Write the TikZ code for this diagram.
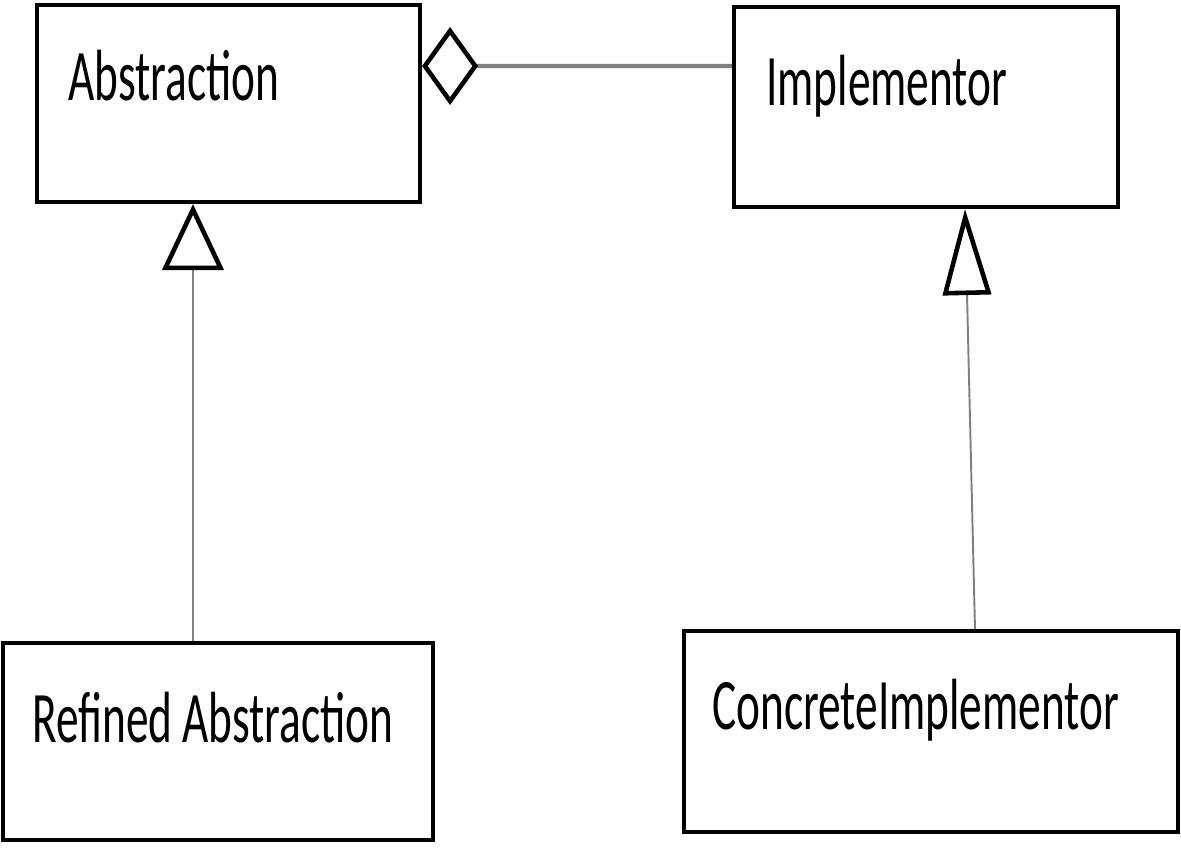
\documentclass[tikz,border=0pt]{standalone}
\usepackage{fontspec}
\setmainfont{Carlito}
\usepackage{graphicx}
\usepackage{tikz}
\usetikzlibrary{arrows.meta}
\newcommand\tallbox[1]{\scalebox{1}[1.6]{#1}}
\tikzset{
  umlbox/.style={draw, line width=2.4pt, rectangle, inner sep=0pt},
  cls/.style={inner sep=0pt, anchor=base west, font=\fontsize{25.8}{30}\selectfont},
  agg/.style={draw=gray, line width=2.4pt,
    {Diamond[fill=white, color=black, line width=2.6pt, length=1.12cm, width=1.56cm]}-},
}

\begin{document}
\begin{tikzpicture}[x=0.02cm,y=-0.02cm]
\useasboundingbox (0,0) rectangle (1181,849);
% class boxes
\node[umlbox, minimum width=7.66cm, minimum height=3.94cm] (abs) at (228.5,103.5) {};
\node[umlbox, minimum width=7.68cm, minimum height=4.00cm] (imp) at (926,107) {};
\node[umlbox, minimum width=8.60cm, minimum height=3.94cm] (ref) at (218,741.5) {};
\node[umlbox, minimum width=9.88cm, minimum height=4.02cm] (con) at (931,731.5) {};
% names
\node[cls] (absl) at ([shift={(0.66cm,-1.96cm)}]abs.north west) {\tallbox{Abstraction}};
\node[cls] (impl) at ([shift={(0.68cm,-2.02cm)}]imp.north west) {\tallbox{Implementor}};
\node[cls] (refl) at ([shift={(0.62cm,-2.04cm)}]ref.north west) {\tallbox{Refined Abstraction}};
\node[cls] (conl) at ([shift={(0.60cm,-2.02cm)}]con.north west) {\tallbox{ConcreteImplementor}};
% aggregation
\draw[agg] ([yshift=0.75cm]abs.east) -- ([yshift=0.82cm]imp.west);
% inheritance
\draw[draw=gray, line width=1.1pt,
  -{Triangle[fill=white, color=black, line width=2.6pt, length=1.32cm, width=1.22cm]}]
  ([xshift=-0.5cm]ref.north) -- ([xshift=-0.71cm]abs.south);
\draw[draw=gray, line width=1.1pt,
  -{Triangle[fill=white, color=black, line width=2.6pt, length=1.72cm, width=0.96cm]}]
  ([xshift=0.88cm]con.north) -- ([xshift=0.78cm]imp.south);
\end{tikzpicture}
\end{document}
